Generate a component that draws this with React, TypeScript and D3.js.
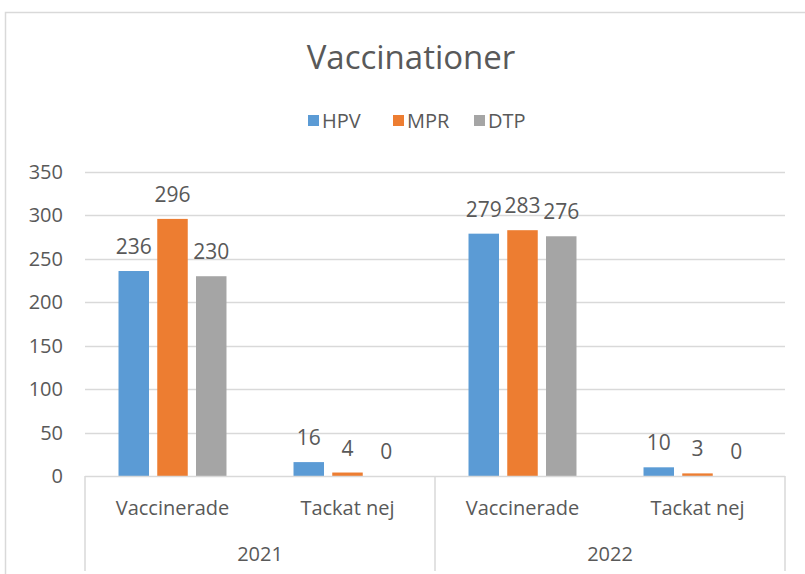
import React from "react";
import * as d3 from "d3";

const years = ["2021", "2022"];
const categories = ["Vaccinerade", "Tackat nej"];
const series = ["HPV", "MPR", "DTP"];
const colors = ["#5B9BD5", "#ED7D31", "#A5A5A5"];
// values[yearIndex][categoryIndex][seriesIndex]
const hpv = [236, 16, 279, 10];
const mpr = [296, 4, 283, 3];
const dtp = [230, 0, 276, 0];
const yTicks = [0, 50, 100, 150, 200, 250, 300, 350];

const FONT = "'Liberation Sans Narrow', 'Open Sans', sans-serif";
const TXT = "#595959";
const GRID = "#D9D9D9";

export default function App() {
  React.useEffect(() => {
    document.body.style.margin = "0";
  }, []);
  const W = 805, H = 574;
  const left = 85, right = 785, top = 172, bottom = 476;
  const keys = years.flatMap((y) => categories.map((c) => y + "|" + c));
  const x0 = d3.scaleBand().domain(keys).range([left, right]).paddingInner(0.383).paddingOuter(0.1915);
  const x1 = d3.scaleBand().domain(series).range([0, x0.bandwidth()]).paddingInner(0.213);
  const y = d3.scaleLinear().domain([0, 350]).range([bottom, top]);
  const yearX = d3.scaleBand().domain(years).range([left, right]);
  const vals = [hpv, mpr, dtp];

  return (
    <svg width={W} height={H} style={{ position: "absolute", left: 0, top: 0, display: "block" }} fontFamily={FONT}>
      <rect x={0} y={0} width={W} height={H} fill="#fff" />
      <rect x={5.5} y={12.5} width={W + 50} height={H + 50} fill="#fff" stroke={GRID} strokeWidth={1.5} />
      <text x={411} y={69} textAnchor="middle" fontSize={33} fill={TXT}>Vaccinationer</text>
      {/* legend */}
      {series.map((s, i) => {
        const lx = [308, 393, 474][i];
        return (
          <g key={s}>
            <rect x={lx} y={115} width={11} height={11} fill={colors[i]} />
            <text x={lx + 14} y={128} fontSize={20} fill={TXT}>{s}</text>
          </g>
        );
      })}
      {/* grid */}
      {yTicks.map((t) => (
        <g key={t}>
          {t > 0 && <line x1={left} x2={right} y1={Math.round(y(t)) + 0.5} y2={Math.round(y(t)) + 0.5} stroke={GRID} strokeWidth={1.5} />}
          <text x={63} y={y(t) + 7} textAnchor="end" fontSize={20} fill={TXT}>{t}</text>
        </g>
      ))}
      {/* bars */}
      {keys.map((k, ki) => (
        <g key={k}>
          {series.map((s, si) => {
            const v = vals[si][ki];
            const bx = (x0(k) as number) + (x1(s) as number);
            return (
              <g key={s}>
                <rect x={bx} y={y(v)} width={x1.bandwidth()} height={bottom - y(v)} fill={colors[si]} />
                <text x={bx + x1.bandwidth() / 2} y={y(v) - 17} textAnchor="middle" fontSize={21} fill={TXT}>{v}</text>
              </g>
            );
          })}
          <text x={(x0(k) as number) + x0.bandwidth() / 2} y={515} textAnchor="middle" fontSize={20} fill={TXT}>{k.split("|")[1]}</text>
        </g>
      ))}
      {/* category axis */}
      <line x1={left} x2={right} y1={bottom + 0.5} y2={bottom + 0.5} stroke={GRID} strokeWidth={1.5} />
      {[left, yearX("2022") as number, right].map((lx) => (
        <line key={lx} x1={lx} x2={lx} y1={bottom} y2={571} stroke={GRID} strokeWidth={1.5} />
      ))}
      {years.map((yr) => (
        <text key={yr} x={(yearX(yr) as number) + yearX.bandwidth() / 2} y={561} textAnchor="middle" fontSize={20} fill={TXT}>{yr}</text>
      ))}
    </svg>
  );
}
